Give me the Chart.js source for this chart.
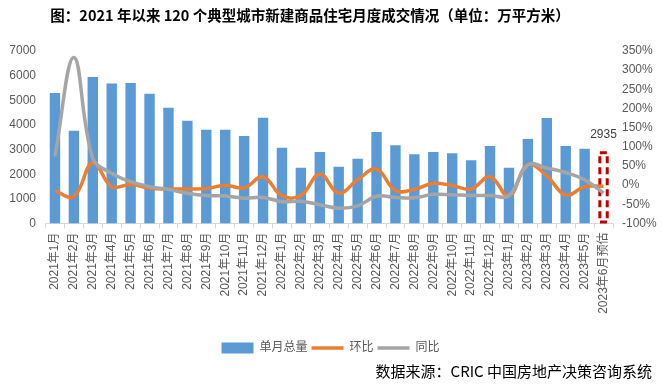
<!DOCTYPE html>
<html>
<head>
<meta charset="utf-8">
<script src="https://cdn.jsdelivr.net/npm/chart.js@4.4.0/dist/chart.umd.min.js"></script>
<style>
html, body { margin: 0; padding: 0; background: #fff; }
#wrap { width: 661px; height: 390px; position: relative; }
</style>
</head>
<body>
<div id="wrap"><canvas id="chart"></canvas></div>
<script>
var months = ["2021年1月", "2021年2月", "2021年3月", "2021年4月", "2021年5月", "2021年6月",
    "2021年7月", "2021年8月", "2021年9月", "2021年10月", "2021年11月", "2021年12月",
    "2022年1月", "2022年2月", "2022年3月", "2022年4月", "2022年5月", "2022年6月",
    "2022年7月", "2022年8月", "2022年9月", "2022年10月", "2022年11月", "2022年12月",
    "2023年1月", "2023年2月", "2023年3月", "2023年4月", "2023年5月", "2023年6月预估"];
// 单月总量（万平方米）
var totals = [5300, 3765, 5950, 5680, 5705, 5270, 4700, 4170, 3805, 3805, 3550, 4290,
    3073, 2260, 2900, 2300, 2625, 3710, 3180, 2815, 2900, 2855, 2570, 3140,
    2260, 3425, 4280, 3140, 3030, 2935];
// 环比 %
var mom = [-15, -30, 59, -4, 2, -8, -10, -10, -9, 0, -7, 22,
    -28, -27, 29, -21, 14, 42, -14, -11, 5, -1, -10, 22,
    -28, 54, 24, -26, -4, -3];
// 同比 %
var yoy = [75, 333, 70, 31, 9, -4, -11, -21, -27, -28, -34, -32,
    -43, -42, -51, -60, -54, -29, -32, -33, -24, -25, -27, -27,
    -27, 53, 45, 33, 14, -20];
var forecastIndex = 29;
var seriesNames = ["单月总量", "环比", "同比"];

var FONT = "'Liberation Sans', 'Noto Sans CJK SC', sans-serif";
var CJK = "'Noto Sans CJK SC', sans-serif";

var barColors = totals.map(function (v, i) { return i === forecastIndex ? 'rgba(0,0,0,0)' : '#5B9BD5'; });

var forecastPlugin = {
    id: 'forecast',
    beforeDatasetsDraw: function (chart) {
        var bar = chart.getDatasetMeta(0).data[forecastIndex];
        var p = bar.getProps(['x', 'y', 'width', 'base'], true);
        var ctx = chart.ctx;
        ctx.save();
        ctx.strokeStyle = '#C00000';
        ctx.lineWidth = 3;
        ctx.setLineDash([7, 4]);
        ctx.strokeRect(p.x - p.width / 2 + 1.5, p.y + 1.5, p.width - 3, p.base - p.y - 3);
        ctx.setLineDash([]);
        ctx.fillStyle = '#404040';
        ctx.font = '12px ' + FONT;
        ctx.textAlign = 'center';
        ctx.textBaseline = 'middle';
        ctx.fillText(String(totals[forecastIndex]), p.x, p.y - 16);
        ctx.restore();
    }
};

var textPlugin = {
    id: 'texts',
    afterDraw: function (chart) {
        var ctx = chart.ctx;
        ctx.save();
        ctx.fillStyle = '#000';
        ctx.font = 'bold 14.5px ' + CJK;
        ctx.textAlign = 'center';
        ctx.textBaseline = 'middle';
        ctx.fillText('图：2021 年以来 120 个典型城市新建商品住宅月度成交情况（单位：万平方米）', 310, 15);
        ctx.font = '15px ' + CJK;
        ctx.textAlign = 'right';
        ctx.fillText('数据来源：CRIC 中国房地产决策咨询系统', 652, 371);
        ctx.restore();
    }
};

var ctx = document.getElementById('chart').getContext('2d');
var chart = new Chart(ctx, {
    type: 'bar',
    data: {
        labels: months,
        datasets: [{
            type: 'bar',
            label: seriesNames[0],
            data: totals,
            backgroundColor: barColors,
            yAxisID: 'y',
            barPercentage: 0.55,
            categoryPercentage: 1,
            order: 3
        }, {
            type: 'line',
            label: seriesNames[1],
            data: mom,
            borderColor: '#ED7D31',
            backgroundColor: '#ED7D31',
            borderWidth: 3.5,
            pointRadius: 0,
            tension: 0.4,
            yAxisID: 'y1',
            order: 2
        }, {
            type: 'line',
            label: seriesNames[2],
            data: yoy,
            borderColor: '#A5A5A5',
            backgroundColor: '#A5A5A5',
            borderWidth: 3.5,
            pointRadius: 0,
            tension: 0.4,
            yAxisID: 'y1',
            order: 1
        }]
    },
    options: {
        responsive: true,
        maintainAspectRatio: false,
        animation: false,
        layout: { padding: { top: 51, bottom: 26, left: 0, right: 0 } },
        plugins: {
            title: { display: false },
            tooltip: { enabled: false },
            legend: {
                position: 'bottom',
                labels: {
                    color: '#595959',
                    font: { size: 12, family: FONT },
                    usePointStyle: true,
                    pointStyleWidth: 32,
                    boxHeight: 11,
                    padding: 4,
                    generateLabels: function (chart) {
                        var items = Chart.defaults.plugins.legend.labels.generateLabels(chart);
                        items.sort(function (a, b) { return a.datasetIndex - b.datasetIndex; });
                        items.forEach(function (it) {
                            if (it.datasetIndex === 0) {
                                it.pointStyle = 'rect';
                                it.fillStyle = '#5B9BD5';
                                it.strokeStyle = '#5B9BD5';
                                it.lineWidth = 0;
                            } else {
                                it.pointStyle = 'line';
                                it.lineWidth = 3.5;
                            }
                        });
                        return items;
                    }
                }
            }
        },
        scales: {
            x: {
                offset: true,
                grid: { display: true, drawOnChartArea: false, drawTicks: true, tickLength: 5, color: '#D9D9D9', offset: true },
                border: { display: true, color: '#D9D9D9' },
                ticks: {
                    color: '#595959',
                    font: { size: 12, family: FONT },
                    minRotation: 90,
                    maxRotation: 90,
                    autoSkip: false,
                    padding: 4
                },
                afterFit: function (s) { s.height = 114.5; }
            },
            y: {
                position: 'left',
                min: 0,
                max: 7000,
                grid: { display: false, drawTicks: false },
                border: { display: false },
                ticks: {
                    stepSize: 1000,
                    color: '#595959',
                    font: { size: 12, family: FONT },
                    padding: 9.5,
                    callback: function (v) { return String(v); }
                },
                afterFit: function (s) { s.width = 45.5; }
            },
            y1: {
                position: 'right',
                min: -100,
                max: 350,
                grid: { display: false, drawTicks: false },
                border: { display: false },
                ticks: {
                    stepSize: 50,
                    color: '#595959',
                    font: { size: 12, family: FONT },
                    padding: 9,
                    callback: function (v) { return v + '%'; }
                },
                afterFit: function (s) { s.width = 48; }
            }
        }
    },
    plugins: [forecastPlugin, textPlugin]
});
</script>
</body>
</html>
